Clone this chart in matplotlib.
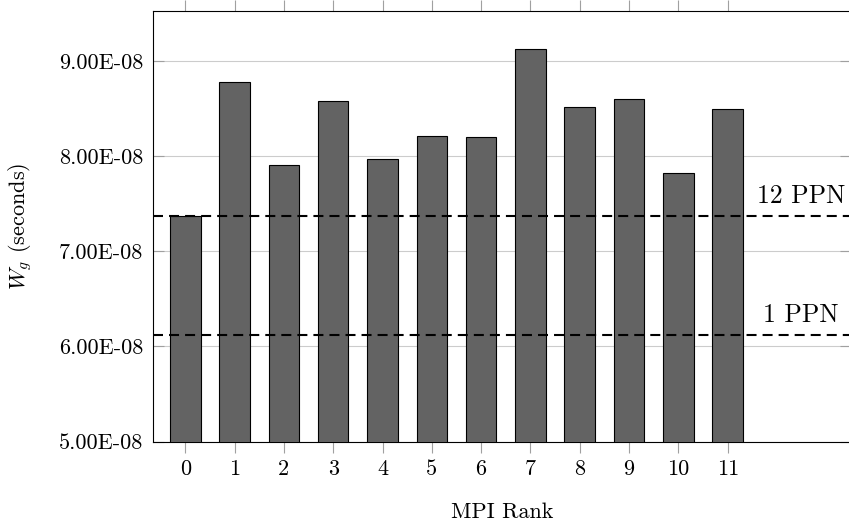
import matplotlib
matplotlib.use("Agg")
import matplotlib.pyplot as plt

plt.rcParams["font.family"] = "cmr10"
plt.rcParams["mathtext.fontset"] = "cm"
plt.rcParams["axes.formatter.use_mathtext"] = True

# Per-rank wait times (seconds)
ranks = list(range(12))
wait_times = [7.37e-8, 8.78e-8, 7.91e-8, 8.58e-8, 7.97e-8, 8.21e-8,
              8.20e-8, 9.12e-8, 8.51e-8, 8.60e-8, 7.82e-8, 8.49e-8]

# Reference levels for 12 and 1 processes per node
ref_labels = ["12 PPN", "1 PPN"]
ref_values = [7.37e-8, 6.12e-8]

y_ticks = [5e-8, 6e-8, 7e-8, 8e-8, 9e-8]
y_tick_labels = ["5.00E-08", "6.00E-08", "7.00E-08", "8.00E-08", "9.00E-08"]

fig = plt.figure(figsize=(8.49, 5.24), dpi=100)
ax = fig.add_axes([0.1806, 0.1571, 0.8218, 0.8219])

ax.bar(ranks, wait_times, width=0.62, color="#636363",
       edgecolor="black", linewidth=0.8, zorder=3)

for label, value in zip(ref_labels, ref_values):
    ax.axhline(value, color="black", linewidth=1.5, dashes=(4.8, 2.9), zorder=4)
    ax.annotate(label, xy=(12.48, value), xytext=(0, 9.5),
                textcoords="offset points", ha="center", va="baseline",
                fontsize=18.5)

ax.set_xlim(-0.647, 13.5)
ax.set_ylim(5e-8, 9.523e-8)

ax.set_xticks(ranks)
ax.set_xticklabels([str(r) for r in ranks])
ax.set_yticks(y_ticks)
ax.set_yticklabels(y_tick_labels)

ax.yaxis.grid(True, color="#cccccc", linewidth=0.8, zorder=0)
ax.set_axisbelow(True)

ax.tick_params(axis="x", direction="out", top=True, length=8,
               color="#a0a0a0", labelsize=16, pad=5)
ax.tick_params(axis="y", direction="in", right=True, length=8,
               color="#a0a0a0", labelsize=16, pad=7)

for spine in ax.spines.values():
    spine.set_color("black")
    spine.set_linewidth(0.8)

ax.set_xlabel("MPI Rank", fontsize=16, labelpad=17)
ax.set_ylabel("$W_g$ (seconds)", fontsize=16, labelpad=18)

fig.savefig("out.png", dpi=100)
